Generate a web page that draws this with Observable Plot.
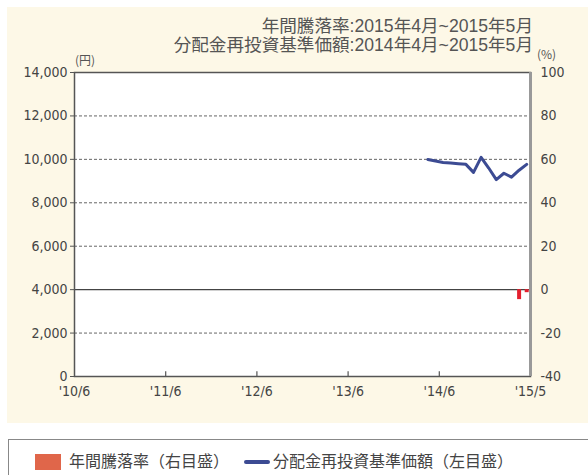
<!DOCTYPE html>
<html><head><meta charset="utf-8">
<script src="https://cdn.jsdelivr.net/npm/d3@7"></script>
<script src="https://cdn.jsdelivr.net/npm/@observablehq/plot@0.6"></script>
<style>
body{margin:0;background:#fff;}
#wrap{position:relative;width:588px;height:475px;overflow:hidden;font-family:"Noto Sans CJK JP",sans-serif;}
#bg{position:absolute;left:7px;top:7px;width:581px;height:416px;background:#fdf8e7;}
#chart{position:absolute;left:0;top:0;}
.t{position:absolute;right:55px;color:#555;font-family:"Liberation Sans","Noto Sans CJK JP",sans-serif;font-size:17.6px;white-space:nowrap;line-height:1;}
.u{position:absolute;color:#555;font-size:12px;white-space:nowrap;line-height:1;}
#legend{position:absolute;left:8px;top:439px;width:590px;height:50px;border:1.5px solid #888;background:#fff;box-sizing:border-box;}
.li{position:absolute;top:12px;font-size:16px;color:#444;line-height:1;white-space:nowrap;}
.sw1{position:absolute;left:26px;top:14px;width:26px;height:16px;background:#e0664a;}
.sw2{position:absolute;left:235px;top:20px;width:26px;height:4px;background:#3c4b93;border-radius:2px;}
</style></head>
<body>
<div id="wrap">
  <div id="bg"></div>
  <div id="chart"></div>
  <div class="t" id="t1" style="top:18px"></div>
  <div class="t" id="t2" style="top:36.5px"></div>
  <div class="u" style="left:75px;top:54px">(円)</div>
  <div class="u" style="left:537px;top:48px">(%)</div>
  <div id="legend">
    <div class="sw1"></div><div class="li" style="left:60px" id="l1"></div>
    <div class="sw2"></div><div class="li" style="left:264px" id="l2"></div>
  </div>
</div>
<script>
const titleLines = ["年間騰落率:2015年4月~2015年5月", "分配金再投資基準価額:2014年4月~2015年5月"];
const legendLabels = ["年間騰落率（右目盛）", "分配金再投資基準価額（左目盛）"];
const navMonths = ["2014/4","2014/5","2014/6","2014/7","2014/8","2014/9","2014/10","2014/11","2014/12","2015/1","2015/2","2015/3","2015/4","2015/5"];
const navValues = [9990, 9920, 9860, 9830, 9800, 9770, 9400, 10090, 9600, 9070, 9360, 9180, 9500, 9770];
const barMonths = ["2015/4","2015/5"];
const barValues = [-4.6, -1.4];
const xTickLabels = ["'10/6","'11/6","'12/6","'13/6","'14/6","'15/5"];
const leftTicks = [0,2000,4000,6000,8000,10000,12000,14000];
const rightTicks = [-40,-20,0,20,40,60,80,100];
const dashedGrid = [2000,6000,8000,10000,12000];

document.getElementById("t1").textContent = titleLines[0];
document.getElementById("t2").textContent = titleLines[1];
document.getElementById("l1").textContent = legendLabels[0];
document.getElementById("l2").textContent = legendLabels[1];

const pos = m => { const [y, mo] = m.split("/").map(Number); return (y - 2010) * 12 + (mo - 6) + 0.5; };
const nav = navMonths.map((m, i) => ({x: pos(m), v: navValues[i]}));
const bars = barMonths.map((m, i) => ({x: pos(m), v: barValues[i]}));
const pctToY = p => 4000 + p * 100;
const xTicks = xTickLabels.map((d, i) => i * 12);

const chart = Plot.plot({
  width: 588, height: 430,
  marginLeft: 74, marginRight: 58, marginTop: 72, marginBottom: 54,
  style: {fontFamily: "'Liberation Sans Narrow', 'DejaVu Sans Condensed', sans-serif", fontSize: "14px", color: "#444", background: "transparent"},
  x: {domain: [0, 60], axis: null},
  y: {domain: [0, 14000], axis: null},
  marks: [
    Plot.frame({fill: "white"}),
    Plot.ruleY(dashedGrid, {stroke: "#555", strokeWidth: 0.9, strokeDasharray: "3,2"}),
    Plot.ruleY([pctToY(0)], {stroke: "#444", strokeWidth: 1.3}),
    Plot.ruleX(xTicks.slice(1, -1), {y1: 0, y2: 220, stroke: "#555", strokeWidth: 1.2}),
    Plot.ruleX(bars, {x: "x", y1: pctToY(0), y2: d => pctToY(d.v), stroke: "#e3202e", strokeWidth: 4}),
    Plot.line(nav, {x: "x", y: "v", stroke: "#3c4b93", strokeWidth: 3, strokeLinejoin: "round"}),
    Plot.frame({stroke: "#555", strokeWidth: 1.5}),
    Plot.ruleX([60], {stroke: "#999", strokeWidth: 3}),
    Plot.axisY(leftTicks, {anchor: "left", label: null, tickFormat: d3.format(","), tickSize: 4, tickPadding: 3, stroke: "#555"}),
    Plot.axisY(leftTicks, {anchor: "right", label: null, tickFormat: (d, i) => rightTicks[i], tickSize: 0, tickPadding: 10}),
    Plot.axisX(xTicks, {anchor: "bottom", label: null, tickFormat: (d, i) => xTickLabels[i], tickSize: 0, tickPadding: 10})
  ]
});
document.getElementById("chart").appendChild(chart);
</script>
</body></html>
